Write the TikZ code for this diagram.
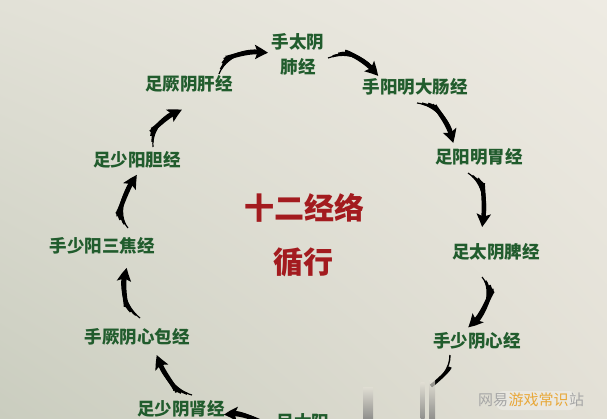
\documentclass[tikz,border=0pt]{standalone}
\usepackage{fontspec}
\setmainfont{Noto Sans CJK SC}
\usetikzlibrary{arrows.meta,shadings,bending}
\definecolor{mgreen}{HTML}{215C2D}
\definecolor{tred}{HTML}{A31B1F}
\definecolor{bgUL}{HTML}{E2E1D7}
\definecolor{bgUR}{HTML}{EEEBE3}
\definecolor{bgLL}{HTML}{CACDBF}
\definecolor{bgLR}{HTML}{E3E0D6}
\definecolor{wmorange}{HTML}{E8A83A}
\newcommand\brusharrow[1]{%
  \draw[line width=1.2pt, shorten >=8pt] #1;
  \draw[line width=2.2pt, shorten <=5pt, shorten >=8pt] #1;
  \draw[line width=3.3pt, shorten <=11pt, shorten >=8pt] #1;
  \draw[line width=4.4pt, shorten <=18pt, -{Stealth[length=13pt,width=14pt,inset=2.5pt,bend]}] #1;
}
\begin{document}
\begin{tikzpicture}[x=1pt,y=-1pt,
  lbl/.style={font=\fontsize{17.5}{18}\selectfont\bfseries, text=mgreen, inner sep=0pt},
  ttl/.style={font=\fontsize{30}{30}\selectfont\bfseries, text=tred, inner sep=0pt},
  wm/.style={font=\fontsize{15}{15}\selectfont, inner sep=0pt},
  bar/.style={top color=bgLR, bottom color=black!55, draw=none, opacity=0.7}]
\useasboundingbox (0,0) rectangle (607,418);
\clip (0,0) rectangle (607,418);
\shade[upper left=bgUL, upper right=bgUR, lower left=bgLL, lower right=bgLR] (0,0) rectangle (607,418);

% labels
\node[lbl] (lung1) at (298,42) {手太阴};
\node[lbl] (lung2) at (298,67) {肺经};
\node[lbl] (gan) at (189,84) {足厥阴肝经};
\node[lbl] (dachang) at (415,87) {手阳明大肠经};
\node[lbl] (wei) at (479,157) {足阳明胃经};
\node[lbl] (pi) at (496,252) {足太阴脾经};
\node[lbl] (xin) at (477,341) {手少阴心经};
\node[lbl] (pangguang) at (303,422) {足太阳};
\node[lbl] (shen) at (181,409) {足少阴肾经};
\node[lbl] (xinbao) at (137,337) {手厥阴心包经};
\node[lbl] (sanjiao) at (102,246) {手少阳三焦经};
\node[lbl] (dan) at (137,160) {足少阳胆经};

\node[ttl] (t1) at (304,208) {十二经络};
\node[ttl] (t2) at (303,262) {循行};

% connector end points
\coordinate (a1s) at (219,74);  \coordinate (a1e) at (268,53);
\coordinate (a2s) at (328,58);  \coordinate (a2e) at (378,76);
\coordinate (a3s) at (417,103); \coordinate (a3e) at (453,143);
\coordinate (a4s) at (468,173); \coordinate (a4e) at (482,227);
\coordinate (a5s) at (482,277); \coordinate (a5e) at (468,327);
\coordinate (a6s) at (450,355); \coordinate (a6e) at (431,386);
\coordinate (a7s) at (275,432); \coordinate (a7e) at (224,415);
\coordinate (a8s) at (192,395); \coordinate (a8e) at (157,355);
\coordinate (a9s) at (140,318); \coordinate (a9e) at (127,268);
\coordinate (a10s) at (128,228); \coordinate (a10e) at (137,175);
\coordinate (a11s) at (153,147); \coordinate (a11e) at (182,110);

\brusharrow{(a1s) .. controls +(6,-16) and +(-22,-4) .. (a1e)}
\brusharrow{(a2s) .. controls +(22,-8) and +(-10,-14) .. (a2e)}
\brusharrow{(a3s) .. controls +(18,2) and +(-3,-20) .. (a3e)}
\brusharrow{(a4s) .. controls +(16,10) and +(4,-20) .. (a4e)}
\brusharrow{(a5s) .. controls +(12,14) and +(14,-8) .. (a5e)}
\draw[line width=1.4pt] (a6s) .. controls +(0,14) and +(10,-8) .. (a6e);
\draw[line width=3.4pt, shorten <=12pt] (a6s) .. controls +(0,14) and +(10,-8) .. (a6e);
\brusharrow{(a7s) .. controls +(-20,-14) and +(14,-4) .. (a7e)}
\brusharrow{(a8s) .. controls +(-16,-4) and +(4,16) .. (a8e)}
\brusharrow{(a9s) .. controls +(-16,-12) and +(-6,14) .. (a9e)}
\brusharrow{(a10s) .. controls +(-12,-14) and +(-10,12) .. (a10e)}
\brusharrow{(a11s) .. controls +(-2,-18) and +(-14,4) .. (a11e)}

% blurred vertical bars at the bottom
\shade[bar] (363,387) rectangle (373,418);
\shade[bar] (420.5,382) rectangle (424.5,418);
\shade[bar] (429,380) rectangle (435,418);

% watermark
\fill[white, opacity=0.3, rounded corners=7pt] (496,391) rectangle (576,410);
\node[wm, text=black!35, anchor=west] (wm1) at (478,400) {网易};
\node[wm, text=wmorange, anchor=west] (wm2) at (wm1.east) {游戏常识};
\node[wm, text=black!35, anchor=west] (wm3) at (wm2.east) {站};
\end{tikzpicture}
\end{document}
